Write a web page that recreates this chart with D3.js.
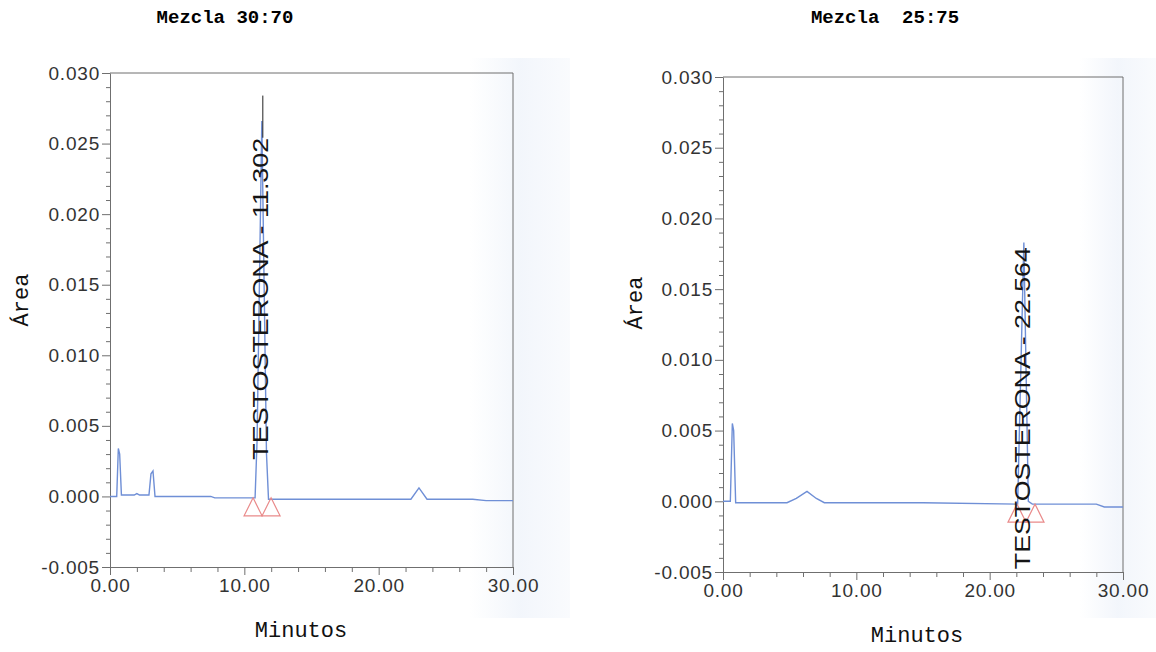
<!DOCTYPE html>
<html>
<head>
<meta charset="utf-8">
<style>
    body { margin: 0; background: #fff; }
    .title { font: bold 19px "Liberation Mono", "Courier New", monospace; fill: #000; white-space: pre; }
    .axis-title { font: 22px "Liberation Mono", "Courier New", monospace; fill: #111; }
    .tick text { font: 19px "Liberation Sans", Arial, sans-serif; fill: #333; letter-spacing: 0.8px; }
    .domain, .tick line { stroke: #6f6f6f; }
    .frame { stroke: #6f6f6f; fill: none; }
    .trace { fill: none; stroke: #6f8fd6; stroke-width: 1.4; }
    .peak-label { font: 22px "Liberation Sans", Arial, sans-serif; fill: #151515; }
    .tri { fill: none; stroke: #e98a8a; stroke-width: 1.2; }
</style>
<script src="https://d3js.org/d3.v7.min.js"></script>
</head>
<body>
<svg width="1156" height="652"></svg>
<script>
// ---- data ----
var titles = ["Mezcla 30:70", "Mezcla  25:75"];
var xLabel = "Minutos", yLabel = "Área";
var xTicks = [0, 10, 20, 30];
var xMinor = [2, 4, 6, 8, 12, 14, 16, 18, 22, 24, 26, 28];
var yTicks = [-0.005, 0, 0.005, 0.010, 0.015, 0.020, 0.025, 0.030];

// Mezcla 30:70
var timesA  = [0, 0.5, 0.62, 0.72, 0.85, 1.0, 1.8, 2.0, 2.2, 2.9, 3.05, 3.2, 3.35, 7.5, 7.8, 10.8, 10.95, 11.302, 11.65, 11.8, 12.5, 22.4, 23.0, 23.6, 27.0, 28.0, 30.0];
var valuesA = [0, 0, 0.0034, 0.0030, 0.0001, 0.0001, 0.0001, 0.0002, 0.0001, 0.0001, 0.0016, 0.0018, 0.0000, 0.0000, -0.0001, -0.0001, 0.0040, 0.0266, 0.0030, -0.0002, -0.0002, -0.0002, 0.0006, -0.0002, -0.0002, -0.0003, -0.0003];
// Mezcla 25:75
var timesB  = [0, 0.55, 0.7, 0.8, 0.95, 4.8, 5.5, 6.3, 7.0, 7.6, 15.0, 22.1, 22.564, 22.9, 23.2, 28.0, 28.6, 30.0];
var valuesB = [0, 0, 0.0055, 0.0050, -0.0001, -0.0001, 0.0002, 0.0007, 0.0002, -0.0001, -0.0001, -0.0002, 0.0183, 0.0000, -0.0002, -0.0002, -0.0004, -0.0004];

var peakNames  = ["TESTOSTERONA - 11.302", "TESTOSTERONA - 22.564"];
var peakTimes  = [11.302, 22.564];
var labelStart = [0.0026, -0.0048];   // where the vertical label begins (bottom)
var leaderTop  = [0.0284, null];
var triTimes   = [[10.65, 11.99], [22.05, 23.4]];
var triLevel   = [-0.0001, -0.0002];

// ---- layout ----
var panels = [
    { x0: 110, x1: 513, yTop: 73, yBot: 567, titleX: 225, yLabX: 20, yLabY: 300, xLabX: 301, xLabY: 637,
      times: timesA, values: valuesA, tintX: 470, tintW: 100 },
    { x0: 723, x1: 1123, yTop: 77, yBot: 572, titleX: 885, yLabX: 634, yLabY: 303, xLabX: 917, xLabY: 642,
      times: timesB, values: valuesB, tintX: 1080, tintW: 76 }
];

// hyphen instead of the unicode minus, as in the original print
function fmt(spec) {
    var f = d3.format(spec);
    return function (d) { return f(d).replace("\u2212", "-"); };
}

var svg = d3.select("svg");
var defs = svg.append("defs");
var grad = defs.append("linearGradient").attr("id", "tint");
grad.append("stop").attr("offset", "0").attr("stop-color", "#f1f5fb").attr("stop-opacity", 0);
grad.append("stop").attr("offset", "0.5").attr("stop-color", "#f1f5fb").attr("stop-opacity", 0.9);
grad.append("stop").attr("offset", "1").attr("stop-color", "#f1f5fb").attr("stop-opacity", 0.4);

panels.forEach(function (p, i) {
    // faint scan tint on the right side
    svg.append("rect").attr("x", p.tintX).attr("y", 58).attr("width", p.tintW).attr("height", 560)
        .attr("fill", "url(#tint)");

    var x = d3.scaleLinear().domain([0, 30]).range([p.x0, p.x1]);
    var y = d3.scaleLinear().domain([-0.005, 0.030]).range([p.yBot, p.yTop]);
    var g = svg.append("g");

    // frame (top + right)
    g.append("path").attr("class", "frame")
        .attr("d", "M" + x(0) + "," + y(0.030) + "H" + x(30) + "V" + y(-0.005));

    // minor ticks
    var yMinor = d3.range(-0.004, 0.030, 0.001).filter(function (v) {
        return Math.abs(Math.round(v * 1000) % 5) !== 0;
    });
    g.append("g").attr("transform", "translate(" + x(0) + ",0)")
        .call(d3.axisLeft(y).tickValues(yMinor).tickSize(4).tickFormat(""))
        .select(".domain").remove();
    g.append("g").attr("transform", "translate(0," + y(-0.005) + ")")
        .call(d3.axisBottom(x).tickValues(xMinor).tickSize(5).tickFormat(""))
        .select(".domain").remove();

    // major axes
    g.append("g").attr("transform", "translate(" + x(0) + ",0)")
        .call(d3.axisLeft(y).tickValues(yTicks).tickSize(8).tickSizeOuter(0).tickPadding(2).tickFormat(fmt(".3f")));
    g.append("g").attr("transform", "translate(0," + y(-0.005) + ")")
        .call(d3.axisBottom(x).tickValues(xTicks).tickSize(8).tickSizeOuter(0).tickPadding(4).tickFormat(fmt(".2f")));

    // trace
    var pts = p.times.map(function (t, k) { return [t, p.values[k]]; });
    g.append("path").datum(pts).attr("class", "trace")
        .attr("d", d3.line().x(function (d) { return x(d[0]); }).y(function (d) { return y(d[1]); }));

    // integration triangles
    triTimes[i].forEach(function (t) {
        var cx = x(t), cy = y(triLevel[i]);
        g.append("path").attr("class", "tri")
            .attr("d", "M" + cx + "," + cy + "L" + (cx + 9) + "," + (cy + 18) + "L" + (cx - 9) + "," + (cy + 18) + "Z");
    });

    // vertical peak label
    var lx = x(peakTimes[i]) - 2, ly = y(labelStart[i]), len = 322;
    g.append("text").attr("class", "peak-label")
        .attr("transform", "translate(" + lx + "," + ly + ") rotate(-90)")
        .attr("dy", "0.36em")
        .attr("textLength", len).attr("lengthAdjust", "spacingAndGlyphs")
        .text(peakNames[i]);
    if (leaderTop[i] !== null) {
        g.append("line").attr("x1", x(peakTimes[i]) + 1).attr("x2", x(peakTimes[i]) + 1)
            .attr("y1", ly - len).attr("y2", y(leaderTop[i]))
            .attr("stroke", "#222").attr("stroke-width", 1);
    }

    // titles
    svg.append("text").attr("class", "title").attr("x", p.titleX).attr("y", 23)
        .attr("text-anchor", "middle").text(titles[i]);
    svg.append("text").attr("class", "axis-title").attr("x", p.xLabX).attr("y", p.xLabY)
        .attr("text-anchor", "middle").text(xLabel);
    svg.append("text").attr("class", "axis-title")
        .attr("transform", "translate(" + p.yLabX + "," + p.yLabY + ") rotate(-90)")
        .attr("dy", "0.35em").attr("text-anchor", "middle").text(yLabel);
});
</script>
</body>
</html>
